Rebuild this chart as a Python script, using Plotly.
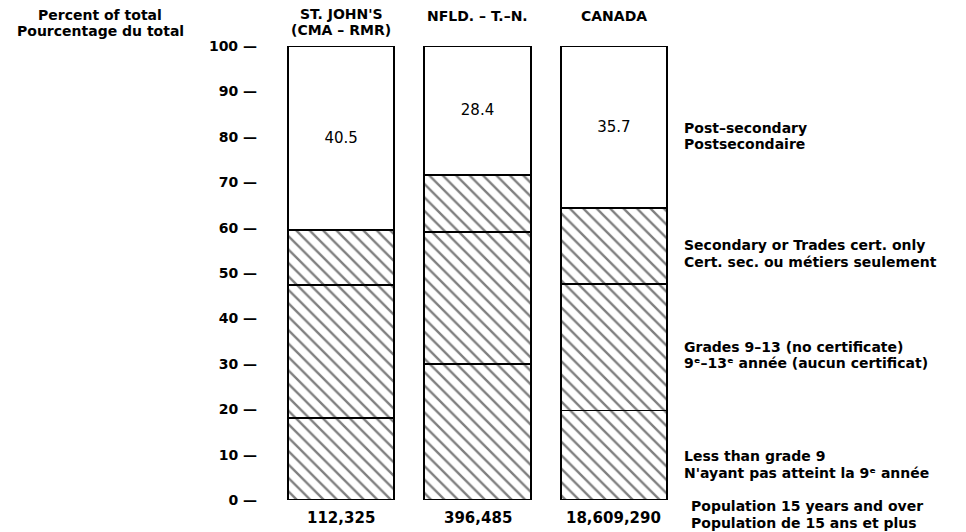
import plotly.graph_objects as go

# Data (percent of population 15 years and over)
areas = [["ST. JOHN'S", "(CMA – RMR)"], ["NFLD. – T.–N."], ["CANADA"]]
populations = ["112,325", "396,485", "18,609,290"]
less_than_9 = [18.0, 30.0, 19.7]
grades_9_13 = [29.3, 29.0, 27.8]
secondary = [12.2, 12.6, 16.8]
post_secondary = [40.5, 28.4, 35.7]

series_labels = [
    ["Post–secondary", "Postsecondaire"],
    ["Secondary or Trades cert. only", "Cert. sec. ou métiers seulement"],
    ["Grades 9–13 (no certificate)", "9ᵉ–13ᵉ année (aucun certificat)"],
    ["Less than grade 9", "N'ayant pas atteint la 9ᵉ année"],
    ["Population 15 years and over", "Population de 15 ans et plus"],
]
# pixel row of the middle of each label block
label_rows = [136, 253.5, 355, 464.5, 514.5]

FONT = "DejaVu Sans"
PITCH = 16.5

# plot area in pixels
L, R, T, B = 273, 283.5, 46, 32
W, H = 966, 532
pw, ph = W - L - R, H - T - B


def px(x):
    return (x - L) / pw


def py(y):
    return (H - B - y) / ph


def text_lines(lines, x, ymid, anchor, size, xref="paper"):
    out = []
    y0 = ymid - PITCH * (len(lines) - 1) / 2
    for k, s in enumerate(lines):
        out.append(dict(
            x=x, y=py(y0 + k * PITCH), xref=xref, yref="paper",
            text="<b>" + s + "</b>", showarrow=False,
            xanchor=anchor, yanchor="middle",
            font=dict(family=FONT, size=size, color="black"),
        ))
    return out


xs = [0, 1, 2]
fig = go.Figure()

hatch = dict(shape="\\", fgcolor="black", bgcolor="white", size=9.5, solidity=0.25)
for vals in [less_than_9, grades_9_13, secondary]:
    fig.add_trace(go.Bar(
        x=xs, y=vals,
        marker=dict(color="white", pattern=hatch, line=dict(color="black", width=1.8)),
        hoverinfo="skip",
    ))

fig.add_trace(go.Bar(
    x=xs, y=post_secondary,
    marker=dict(color="white", line=dict(color="black", width=1.8)),
    text=[f"{v:.1f}" for v in post_secondary],
    textposition="inside", insidetextanchor="middle",
    textfont=dict(family=FONT, size=15, color="black"),
    hoverinfo="skip",
))

annotations = []
# area names above the bars
annotations += text_lines(areas[0], 0, 22, "center", 14, xref="x")
annotations += text_lines(areas[1], 1, 16, "center", 14, xref="x")
annotations += text_lines(areas[2], 2, 16, "center", 14, xref="x")
# population counts below the bars
for i, p in enumerate(populations):
    annotations += text_lines([p], xs[i], 518, "center", 15, xref="x")
# category labels on the right
for i, (lines, row) in enumerate(zip(series_labels, label_rows)):
    x0 = 690 if i == len(series_labels) - 1 else 683
    annotations += text_lines(lines, px(x0), row, "left", 14)
# axis title
annotations += text_lines(["Percent of total", "Pourcentage du total"], px(100), 23, "center", 14)

ticks = list(range(0, 101, 10))
fig.update_layout(
    barmode="stack",
    bargap=0.22,
    width=W, height=H,
    margin=dict(l=L, r=R, t=T, b=B),
    paper_bgcolor="white", plot_bgcolor="white",
    showlegend=False,
    annotations=annotations,
    xaxis=dict(range=[-0.5, 2.5], showticklabels=False, showgrid=False,
               zeroline=False, showline=False, ticks=""),
    yaxis=dict(range=[0, 100], tickvals=ticks, ticktext=[f"<b>{t} —</b>" for t in ticks],
               tickfont=dict(family=FONT, size=14, color="black"),
               showgrid=False, zeroline=False, showline=False, ticks="",
               ticklabelstandoff=15),
)

fig.write_html("out.html", config={"displayModeBar": False},
               post_script="document.body.style.margin='0';")
